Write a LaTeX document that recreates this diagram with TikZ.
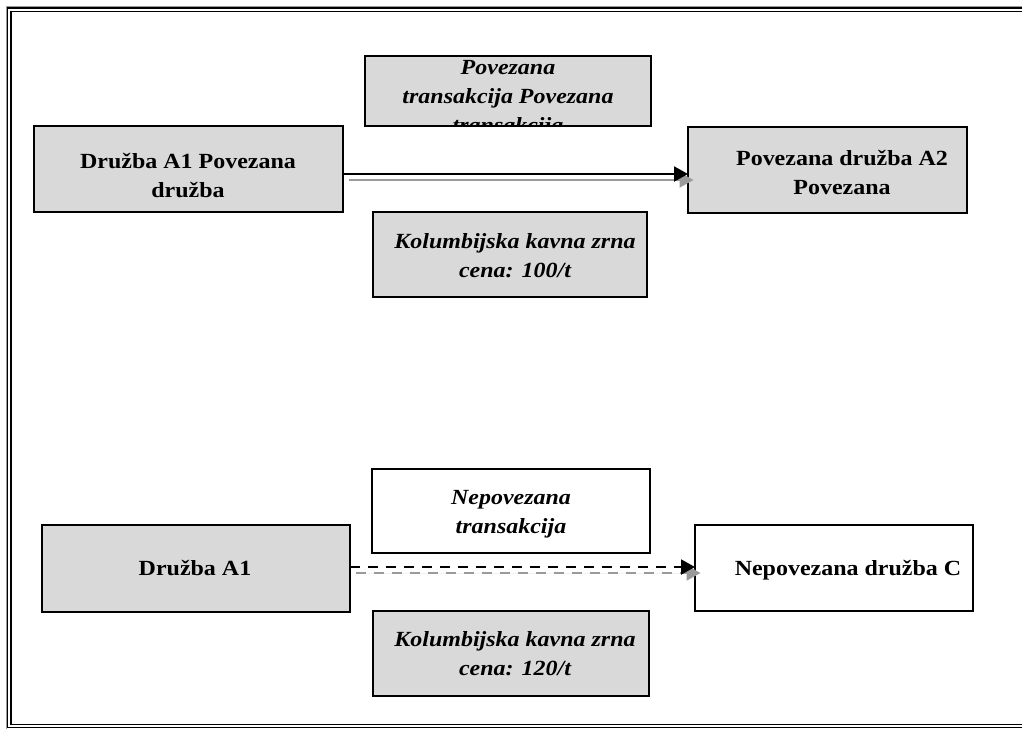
\documentclass[tikz,border=0pt]{standalone}
\usepackage{fontspec}
\setmainfont{Liberation Serif}[FakeStretch=1.11]
\usetikzlibrary{arrows.meta}
\definecolor{boxgray}{HTML}{D9D9D9}
\definecolor{shadowgray}{HTML}{9A9A9A}
\begin{document}
\begin{tikzpicture}[x=1pt,y=-1pt,
  box/.style={draw=black, line width=1.3pt, inner sep=0pt, outer sep=0pt},
  graybox/.style={box, fill=boxgray},
  whitebox/.style={box, fill=white},
  txt/.style={inner sep=0pt, align=center, anchor=base, font=\fontsize{21.6}{29}\selectfont\bfseries},
  itxt/.style={inner sep=0pt, align=center, anchor=base, font=\fontsize{21.6}{29}\selectfont\bfseries\itshape},
  arr/.style={line width=2pt, -{Triangle[length=14pt,width=15pt]}},
  sarr/.style={arr, draw=shadowgray, fill=shadowgray},
  frame/.style={line width=1.4pt, draw=black}
]
\useasboundingbox (0,0) rectangle (1022,729);
% frame
\draw[shadowgray, line width=1pt] (6,729) -- (6,6.5) -- (1030,6.5);
\draw[frame] (7.5,8) rectangle (1040,727.2);
\draw[frame] (10.8,11.5) rectangle (1035,724.3);

% boxes
\node[graybox, minimum width=286pt, minimum height=70pt] (tb) at (508,91) {};
\node[graybox, minimum width=309pt, minimum height=86pt] (a1) at (188.5,169) {};
\node[graybox, minimum width=279pt, minimum height=86pt] (a2) at (827.5,170) {};
\node[graybox, minimum width=274pt, minimum height=85pt] (k1) at (510,254.5) {};
\node[whitebox, minimum width=278pt, minimum height=84pt] (tb2) at (511,511) {};
\node[graybox, minimum width=308pt, minimum height=87pt] (b1) at (196,568.5) {};
\node[whitebox, minimum width=278pt, minimum height=86pt] (c) at (834,568) {};
\node[graybox, minimum width=276pt, minimum height=85pt] (k2) at (511,653.5) {};

% texts (base anchor = baseline of the last line)
\begin{scope}
\clip (tb.north west) rectangle (tb.south east);
\node[itxt] (tbt) at (508,132) {Povezana\\transakcija Povezana\\transakcija};
\end{scope}
\draw[box] (tb.north west) rectangle (tb.south east);
\node[txt] (a1t) at (188,197) {Družba A1 Povezana\\družba};
\node[txt] (a2t) at (842,194) {Povezana družba A2\\Povezana};
\node[itxt] (k1t) at (515,277) {Kolumbijska kavna zrna\\cena: 100/t};
\node[itxt] (tb2t) at (511,533) {Nepovezana\\transakcija};
\node[txt] (b1t) at (195,575) {Družba A1};
\node[txt] (ct) at (848,575) {Nepovezana družba C};
\node[itxt] (k2t) at (515,675) {Kolumbijska kavna zrna\\cena: 120/t};

% arrows
\coordinate (ya) at (0,174);
\coordinate (yb) at (0,567);
\draw[sarr, transform canvas={shift={(5.5pt,-6pt)}}] (a1.east |- ya) -- (a2.west |- ya);
\draw[arr] (a1.east |- ya) -- (a2.west |- ya);
\draw[sarr, dash pattern=on 10pt off 8pt, transform canvas={shift={(5.5pt,-6pt)}}] (b1.east |- yb) -- (c.west |- yb);
\draw[arr, dash pattern=on 10pt off 8pt] (b1.east |- yb) -- (c.west |- yb);
\end{tikzpicture}
\end{document}
